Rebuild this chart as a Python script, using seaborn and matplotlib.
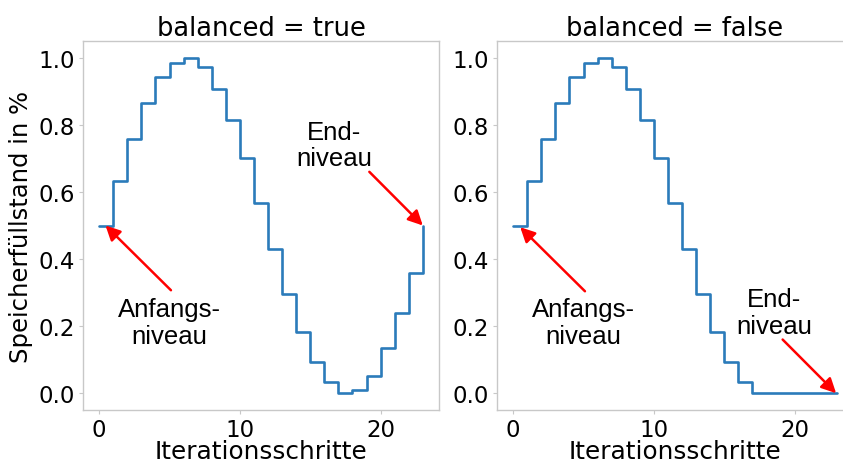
import matplotlib
matplotlib.use("Agg")
import matplotlib.pyplot as plt
import seaborn as sns
import pandas as pd

# Storage level per iteration step (fraction of capacity)
steps = list(range(24))
level_balanced = [0.50, 0.634, 0.757, 0.865, 0.942, 0.984, 1.00, 0.972, 0.907,
                  0.814, 0.700, 0.568, 0.430, 0.297, 0.182, 0.093, 0.032, 0.0,
                  0.009, 0.051, 0.135, 0.238, 0.358, 0.50]
level_unbalanced = [0.50, 0.634, 0.757, 0.865, 0.942, 0.984, 1.00, 0.972, 0.907,
                    0.814, 0.700, 0.568, 0.430, 0.297, 0.182, 0.093, 0.032, 0.0,
                    0.0, 0.0, 0.0, 0.0, 0.0, 0.0]
panel_titles = ["balanced = true", "balanced = false"]
x_ticks = [0, 10, 20]
y_ticks = [0.0, 0.2, 0.4, 0.6, 0.8, 1.0]
x_label = "Iterationsschritte"
y_label = "Speicherfüllstand in %"

sns.set_theme(style="white")
plt.rcParams["font.family"] = ["DejaVu Sans"]
plt.rcParams["text.color"] = "black"
plt.rcParams["axes.labelcolor"] = "black"
plt.rcParams["axes.titlecolor"] = "black"
plt.rcParams["axes.edgecolor"] = "#c8c8c8"
plt.rcParams["axes.linewidth"] = 1.0
plt.rcParams["xtick.color"] = "#c8c8c8"
plt.rcParams["ytick.color"] = "#c8c8c8"
plt.rcParams["xtick.labelcolor"] = "black"
plt.rcParams["ytick.labelcolor"] = "black"

W, H = 843, 464
fig = plt.figure(figsize=(W / 100, H / 100), dpi=100)
fig.patch.set_facecolor("white")

def frac(x0, x1, y_top, y_bot):
    return [x0 / W, 1 - y_bot / H, (x1 - x0) / W, (y_bot - y_top) / H]

ax_l = fig.add_axes(frac(83, 439, 42, 411))
ax_r = fig.add_axes(frac(497, 853, 42, 411))

df = pd.concat([
    pd.DataFrame({"step": steps, "level": level_balanced, "panel": panel_titles[0]}),
    pd.DataFrame({"step": steps, "level": level_unbalanced, "panel": panel_titles[1]}),
])

for ax, title in zip([ax_l, ax_r], panel_titles):
    sub = df[df["panel"] == title]
    sns.lineplot(data=sub, x="step", y="level", ax=ax, drawstyle="steps-post",
                 color="#2b7bba", linewidth=1.9)
    ax.set_xlim(-1.15, 24.15)
    ax.set_ylim(-0.05, 1.05)
    ax.set_xticks(x_ticks)
    ax.set_yticks(y_ticks)
    ax.set_yticklabels([f"{v:.1f}" for v in y_ticks])
    ax.tick_params(axis="both", which="major", labelsize=16.5, length=3, width=0.8,
                   pad=2.5, bottom=True, left=True)
    ax.set_title(title, fontsize=18.5, pad=4)
    ax.set_xlabel(x_label, fontsize=17.8, labelpad=-1)
    ax.set_ylabel("")
    for s in ax.spines.values():
        s.set_visible(True)

ax_l.set_ylabel(y_label, fontsize=17.5, labelpad=4)

note_font = dict(family=["Liberation Sans", "DejaVu Sans"], fontsize=18.5,
                 ha="center", va="center", color="black", linespacing=1.15)
arrow = dict(arrowstyle="-|>", color="red", lw=1.8, mutation_scale=22,
             shrinkA=0, shrinkB=0)

# left panel notes
ax_l.text(5.0, 0.21, "Anfangs-\nniveau", **note_font)
ax_l.annotate("", xy=(0.45, 0.5), xytext=(5.1, 0.307), arrowprops=arrow)
ax_l.text(16.7, 0.74, "End-\nniveau", **note_font)
ax_l.annotate("", xy=(23.0, 0.5), xytext=(19.2, 0.66), arrowprops=arrow)

# right panel notes
ax_r.text(5.0, 0.21, "Anfangs-\nniveau", **note_font)
ax_r.annotate("", xy=(0.5, 0.495), xytext=(5.1, 0.304), arrowprops=arrow)
ax_r.text(18.55, 0.24, "End-\nniveau", **note_font)
ax_r.annotate("", xy=(22.95, 0.0), xytext=(19.15, 0.16), arrowprops=arrow)

fig.savefig("out.png", dpi=100, facecolor="white")
